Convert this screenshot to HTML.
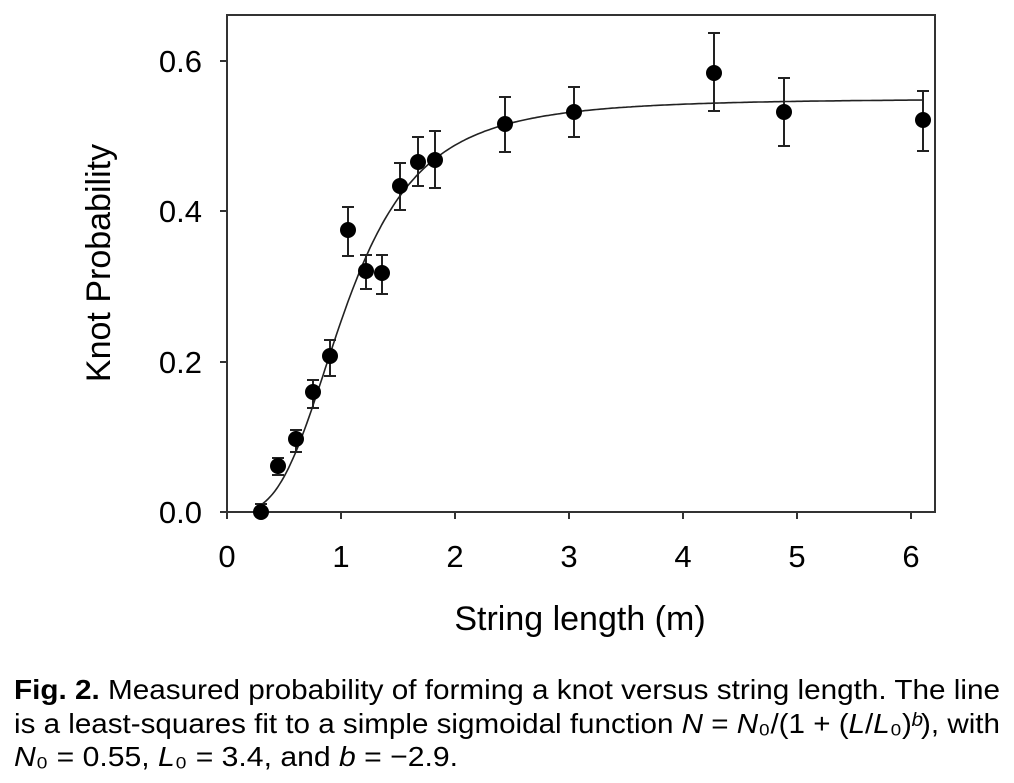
<!DOCTYPE html>
<html><head><meta charset="utf-8"><style>
html,body{margin:0;padding:0;background:#fff;}
svg{display:block;}
text{font-family:"Liberation Sans",Arial,sans-serif;fill:#000;}
.cap{font-family:"Liberation Sans Narrow","Liberation Sans",sans-serif;font-size:28px;}
</style></head><body>
<svg id="s" width="1014" height="783" viewBox="0 0 1014 783" xmlns="http://www.w3.org/2000/svg">
<rect x="227" y="15" width="708" height="497" fill="none" stroke="#333" stroke-width="2"/>
<g stroke="#333" stroke-width="2">
<line x1="227" y1="512" x2="227" y2="519"/><line x1="341" y1="512" x2="341" y2="519"/>
<line x1="455" y1="512" x2="455" y2="519"/><line x1="569" y1="512" x2="569" y2="519"/>
<line x1="683" y1="512" x2="683" y2="519"/><line x1="797" y1="512" x2="797" y2="519"/>
<line x1="911" y1="512" x2="911" y2="519"/>
<line x1="220" y1="512" x2="227" y2="512"/><line x1="220" y1="362" x2="227" y2="362"/>
<line x1="220" y1="211" x2="227" y2="211"/><line x1="220" y1="61" x2="227" y2="61"/>
</g>
<g font-size="31" text-anchor="middle">
<text x="227" y="567">0</text><text x="341" y="567">1</text><text x="455" y="567">2</text>
<text x="569" y="567">3</text><text x="683" y="567">4</text><text x="797" y="567">5</text>
<text x="911" y="567">6</text>
</g>
<g font-size="31" text-anchor="end">
<text x="202" y="523">0.0</text><text x="202" y="373">0.2</text>
<text x="202" y="222">0.4</text><text x="202" y="72">0.6</text>
</g>
<text x="580" y="630" font-size="34" text-anchor="middle">String length (m)</text>
<text transform="translate(110,263) rotate(-90)" font-size="34" text-anchor="middle">Knot Probability</text>
<path id="curve" fill="none" stroke="#222" stroke-width="1.6"/>
<g id="pts" stroke="#222" stroke-width="2"></g>
<text class="cap" x="14" y="699" textLength="986" lengthAdjust="spacingAndGlyphs"><tspan font-weight="bold">Fig. 2.</tspan>    Measured probability of forming a knot versus string length. The line</text>
<text class="cap" x="14" y="733" textLength="986" lengthAdjust="spacingAndGlyphs">is a least-squares fit to a simple sigmoidal function <tspan font-style="italic">N</tspan> = <tspan font-style="italic">N</tspan>₀/(1 + (<tspan font-style="italic">L</tspan>/<tspan font-style="italic">L</tspan>₀)<tspan font-style="italic">ᵇ</tspan>), with</text>
<text class="cap" x="14" y="766" textLength="444" lengthAdjust="spacingAndGlyphs"><tspan font-style="italic">N</tspan>₀ = 0.55, <tspan font-style="italic">L</tspan>₀ = 3.4, and <tspan font-style="italic">b</tspan> = −2.9.</text>
</svg>
<script>
var X=function(v){return 227+114*v},Y=function(v){return 512-751.7*v};
var d="";for(var L=0.3;L<=6.1;L+=0.02){var n=0.55/(1+Math.pow(L/1.05,-3.2));d+=(d?"L":"M")+X(L).toFixed(1)+" "+Y(n).toFixed(1);}
document.getElementById("curve").setAttribute("d",d);
var P=[[261,512,504,512],[278,466,458,475],[296,439,430,452],[313,392,380,408],[330,356,340,376],[348,230,207,256],[366,271,255,289],[382,273,255,294],[400,186,163,210],[418,162,137,186],[435,160,131,188],[505,124,97,152],[574,112,87,137],[714,73,33,111],[784,112,78,146],[923,120,91,151]];
var g=document.getElementById("pts"),h="";
P.forEach(function(p){h+='<line x1="'+p[0]+'" y1="'+p[2]+'" x2="'+p[0]+'" y2="'+p[3]+'"/><line x1="'+(p[0]-6)+'" y1="'+p[2]+'" x2="'+(p[0]+6)+'" y2="'+p[2]+'"/><line x1="'+(p[0]-6)+'" y1="'+p[3]+'" x2="'+(p[0]+6)+'" y2="'+p[3]+'"/><circle cx="'+p[0]+'" cy="'+p[1]+'" r="8" fill="#000" stroke="none"/>';});
g.innerHTML=h;
</script>
</body></html>
